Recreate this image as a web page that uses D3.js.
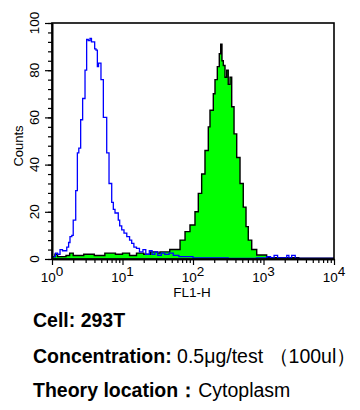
<!DOCTYPE html>
<html><head><meta charset="utf-8">
<script src="https://cdn.jsdelivr.net/npm/d3@7"></script>
<style>body{margin:0;background:#fff}svg{display:block;font-family:"Liberation Sans",Arial,sans-serif}</style>
</head><body><svg id="c" width="360" height="410"></svg>
<script>
// Isotype control (blue outline)
const blueX = [1.00,1.12,1.20,1.30,1.41,1.62,1.72,1.80,1.91,2.00,2.17,2.29,2.40,2.55,2.72,2.94,3.10,3.27,3.46,3.63,3.85,4.03,4.21,4.40,4.57,4.80,4.95,5.35,5.97,6.44,7.03,7.41,7.83,8.71,9.12,9.75,10.5,11.5,12.6,13.5,14.5,15.8,17.4,19.5,21.4,24.0,26.3,28.8,31.6,35.5,39.8,45.7,52.5,63,100,316,794,1122,1259,1413,1585,2138,2291,2512,2818,10000];
const blueY = [1,2.5,2,4,3.5,5,7,9.5,10,16.5,29,45,47,59,68,80,93,92.5,93.5,92,92,89,88.5,81.5,83,83,76,60,45,32,24,21,19.5,16.5,14,12.3,11,9.5,8,6.6,5,4.5,3,4,2,3.5,2,3,1.5,2.5,2,2.5,1.5,1,0.5,0.3,0.5,1,0.5,1.5,0.5,1.5,0.5,1.5,0.3,0.3];
// Stained sample (green filled)
const greenX = [1.00,1.10,1.20,1.58,1.78,2.00,2.82,3.98,5.62,7.94,10,12.6,15.8,20,25.1,31.6,34.0,39.8,46.8,52.5,65.5,77.1,90.6,106.7,118.9,132.7,147.9,164.8,174.2,194.1,205.1,221.3,236.0,247.2,257.6,269.2,284.4,300.6,316.2,335.0,354.0,382.0,416.9,464.5,516.4,564.9,608.1,680.8,801.7,1109,1585,3162,10000];
const greenY = [1,2,1,1.5,2.5,1.5,2,1.5,2.5,2,2.5,1.5,2.5,2,3,2.5,3,3,4,4,8,11.6,14.4,20,27.8,36,46,56,63,70,76,81.5,87,91,84,82,77,80,74,77,64.5,53,43,32,22,13.7,8,4,1.7,0.5,0.5,0.3,0.3];
const xTickValues = [1,10,100,1000,10000];
const xTickExponents = ["0","1","2","3","4"];
const yTickValues = [0,20,40,60,80,100];
const yMinorTicks = [0,4,8,12,16,20,24,28,32,36,40,44,48,52,56,60,64,68,72,76,80,84,88,92,96,100];
const infoLines = [
  {bold:"Cell: 293T", normal:""},
  {bold:"Concentration:", normal:" 0.5μg/test （100ul）"},
  {bold:"Theory location：", normal:"Cytoplasm"}
];

const svg = d3.select("#c");
const L=52, R=334, T=23, B=259;
const x = d3.scaleLog().domain([1,10000]).range([L,R]);
const y = d3.scaleLinear().domain([0,100]).range([B,T]);

const blue = blueX.map((v,i)=>({x:v,y:blueY[i]}));
const green = greenX.map((v,i)=>({x:v,y:greenY[i]}));

svg.append("path").datum(green)
  .attr("d", d3.area().x(d=>x(d.x)).y0(y(0)).y1(d=>y(d.y)).curve(d3.curveStepAfter))
  .attr("fill","#00ff00");
svg.append("path").datum(green)
  .attr("d", d3.line().x(d=>x(d.x)).y(d=>y(d.y)).curve(d3.curveStepAfter))
  .attr("fill","none").attr("stroke","#000").attr("stroke-width",1.4);
svg.append("path").datum(blue)
  .attr("d", d3.line().x(d=>x(d.x)).y(d=>y(d.y)).curve(d3.curveStepAfter))
  .attr("fill","none").attr("stroke","#0000ff").attr("stroke-width",1.3);

// frame
svg.append("rect").attr("x",L).attr("y",T).attr("width",R-L).attr("height",B-T)
  .attr("fill","none").attr("stroke","#000").attr("stroke-width",1.6);

// y axis ticks
const ya = svg.append("g").attr("transform",`translate(${L},0)`);
ya.call(d3.axisLeft(y).tickValues(yMinorTicks).tickSize(4).tickSizeOuter(0).tickFormat(""));
ya.append("g").call(d3.axisLeft(y).tickValues(yTickValues).tickSize(7).tickSizeOuter(0).tickFormat(""));
ya.selectAll("path.domain").attr("stroke","#000").attr("stroke-width",1.6);
ya.selectAll("line").attr("stroke","#000").attr("stroke-width",1.2);

svg.selectAll("text.ylab").data(yTickValues).enter().append("text")
  .attr("transform",d=>`translate(39,${y(d)}) rotate(-90)`)
  .attr("text-anchor","middle").attr("font-size",13.5).attr("fill","#000").text(d=>d);
svg.append("text").attr("transform","translate(23,146) rotate(-90)")
  .attr("text-anchor","middle").attr("font-size",13).attr("fill","#000").text("Counts");

// x axis ticks
const xMinor = [];
xTickValues.slice(0,-1).forEach(d=>{for(let k=2;k<10;k++) xMinor.push(d*k);});
const xa = svg.append("g").attr("transform",`translate(0,${B})`);
xa.call(d3.axisBottom(x).tickValues(xMinor).tickSize(4).tickSizeOuter(0).tickFormat(""));
xa.append("g").call(d3.axisBottom(x).tickValues(xTickValues).tickSize(6).tickSizeOuter(0).tickFormat(""));
xa.selectAll("path.domain").attr("stroke","#000").attr("stroke-width",1.6);
xa.selectAll("line").attr("stroke","#000").attr("stroke-width",1.2);

const xl = svg.selectAll("text.xlab").data(xTickValues).enter().append("text")
  .attr("x",d=>x(d)).attr("y",282).attr("text-anchor","middle").attr("font-size",13.5).attr("fill","#000");
xl.append("tspan").text("10");
xl.append("tspan").attr("dy",-6).text((d,i)=>xTickExponents[i]);
svg.append("text").attr("x",192).attr("y",297).attr("text-anchor","middle")
  .attr("font-size",13.5).attr("fill","#000").text("FL1-H");

// info text
const baseY=[327,363,397];
infoLines.forEach((ln,i)=>{
  const t = svg.append("text").attr("x",33).attr("y",baseY[i]).attr("font-size",19.5).attr("fill","#000");
  t.append("tspan").attr("font-weight","bold").text(ln.bold);
  if(ln.normal) t.append("tspan").text(ln.normal);
});
</script></body></html>
